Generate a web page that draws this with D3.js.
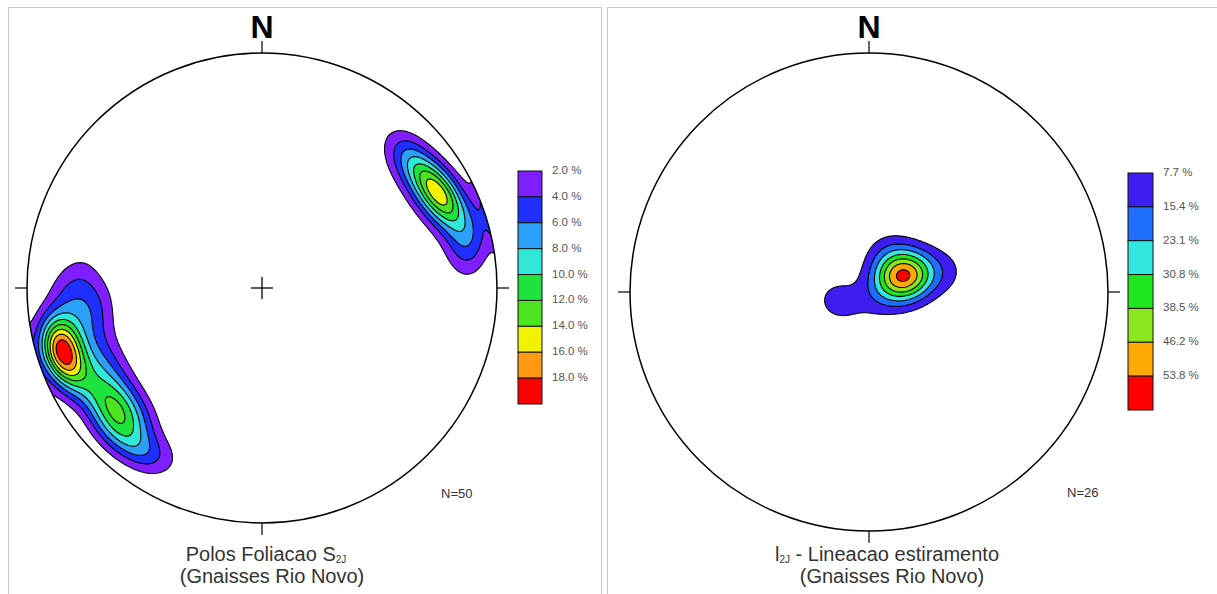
<!DOCTYPE html>
<html><head><meta charset="utf-8">
<script src="https://cdn.jsdelivr.net/npm/d3@7"></script>
<style>body{margin:0;background:#fff}svg{display:block;font-family:"Liberation Sans",Arial,sans-serif}</style>
</head><body><svg id="c" width="1217" height="594"></svg>
<script>
// ---- data: poles to foliation S2J (trend, plunge in degrees), N=50
const foliationPoles = [
  [253,10],[252,9],[256,12],[251,15],[254,8],[247,11],[255,11],[252,17],[249,9],[257,15],[249,13],
  [243,13],[240,18],[244,22],
  [232,17],[229,21],[226,15],[234,24],[228,12],[235,19],[223,20],[221,14],[230,26],[225,24],
  [262,22],[268,17],[273,24],[259,28],[266,30],
  [249,28],[240,28],[255,15],
  [216,13],[213,18],
  [62,16],[60,17],[64,15],[58,20],[63,14],[59,16],[65,18],
  [55,15],[52,19],[68,12],[71,15],
  [46,15],[49,19],
  [78,11],[80,15],[74,6]
];
const foliationLevels = [2.0,4.0,6.0,8.0,10.0,12.0,14.0,16.0,18.0];
const foliationColors = ["#7f1fff","#1f2fff","#2aa0f8","#30e8d8","#1ee33c","#4ce41e","#f2f200","#ff9a12","#ff0000"];

// ---- data: stretching lineation l2J (trend, plunge in degrees), N=26
const lineations = [
  [66,72],[68,83],[58,75],[72,79],[65,72],[60,81],[70,75],[55,78],[75,76],[64,84],
  [66,70],[50,77],[80,78],[67,79],[57,82],[73,73],[61,78],[69,74],
  [261,79],[238,82],[255,77],[73,61],[78,64],[30,74],[153,85],[20,76]
];
const lineationLevels = [7.7,15.4,23.1,30.8,38.5,46.2,53.8];
const lineationColors = ["#3c1ef0","#1e6eff","#30e8e0","#1ee61e","#8ce61e","#ffaa00","#ff0000"];

const svg = d3.select("#c");
svg.append("rect").attr("x",8.5).attr("y",7.5).attr("width",593).attr("height",600)
  .attr("fill","#fff").attr("stroke","#c8c8c8");
svg.append("rect").attr("x",607.5).attr("y",7.5).attr("width",620).attr("height",600)
  .attr("fill","#fff").attr("stroke","#c8c8c8");

function toVec(t,p){const a=t*Math.PI/180,b=p*Math.PI/180;return [Math.cos(b)*Math.sin(a),Math.cos(b)*Math.cos(a),-Math.sin(b)];}
function unitToVec(u,v){let r=Math.hypot(u,v);if(r>1){u/=r;v/=r;r=1;}
  const phi=2*Math.asin(r/Math.SQRT2),a=Math.atan2(u,v);
  return [Math.sin(phi)*Math.sin(a),Math.sin(phi)*Math.cos(a),-Math.cos(phi)];}

function drawNet(o){
  const {id,cx,cy,R,poles,levels,colors,sigma,cross} = o;
  const g = svg.append("g");
  const x = d3.scaleLinear().domain([-1,1]).range([cx-R,cx+R]);
  const y = d3.scaleLinear().domain([-1,1]).range([cy+R,cy-R]);
  const cell=2, pad=6, n=Math.ceil(2*R/cell)+2*pad, x0=cx-R-pad*cell, y0=cy-R-pad*cell;
  const vecs = poles.map(d=>toVec(d[0],d[1]));
  const N = poles.length, s2 = 2*sigma*sigma;
  const values = new Float64Array(n*n);
  for(let j=0;j<n;j++) for(let i=0;i<n;i++){
    const w = unitToVec(x.invert(x0+(i+0.5)*cell), y.invert(y0+(j+0.5)*cell));
    let sum=0;
    for(const p of vecs){const c=Math.min(1,Math.abs(p[0]*w[0]+p[1]*w[1]+p[2]*w[2]));const th=Math.acos(c);sum+=Math.exp(-th*th/s2);}
    values[j*n+i] = sum/(N*sigma*sigma);
  }
  const contours = d3.contours().size([n,n]).thresholds(levels)(values);
  const path = d3.geoPath(d3.geoIdentity().scale(cell).translate([x0,y0]));
  svg.append("clipPath").attr("id",id).append("circle").attr("cx",x(0)).attr("cy",y(0)).attr("r",R);
  g.append("g").attr("clip-path",`url(#${id})`).selectAll("path").data(contours).join("path")
    .attr("d",path).attr("fill",(d,i)=>colors[i]).attr("stroke","#000").attr("stroke-width",1.1)
    .attr("stroke-linejoin","round");
  g.append("circle").attr("cx",x(0)).attr("cy",y(0)).attr("r",R).attr("fill","none")
    .attr("stroke","#000").attr("stroke-width",1.5);
  const tk=12;
  [[0,1,0,-1],[0,-1,0,1],[1,0,1,0],[-1,0,-1,0]].forEach(([u,v,dx,dy])=>{
    g.append("line").attr("x1",x(u)).attr("y1",y(v)).attr("x2",x(u)+dx*tk).attr("y2",y(v)+dy*tk)
      .attr("stroke","#000").attr("stroke-width",1.2);
  });
  if(cross){
    g.append("line").attr("x1",x(0)-11).attr("x2",x(0)+11).attr("y1",y(0)).attr("y2",y(0)).attr("stroke","#000").attr("stroke-width",1.3);
    g.append("line").attr("y1",y(0)-11).attr("y2",y(0)+11).attr("x1",x(0)).attr("x2",x(0)).attr("stroke","#000").attr("stroke-width",1.3);
  }
  g.append("text").attr("x",x(0)).attr("y",y(1)-15).attr("text-anchor","middle")
    .attr("font-size",32).attr("font-weight","bold").attr("fill","#000").text("N");
  // legend
  const ly = d3.scaleLinear().domain([0,levels.length]).range([o.legTop,o.legBottom]);
  const lg = g.append("g");
  lg.selectAll("rect").data(levels).join("rect").attr("x",o.legX).attr("width",o.legW)
    .attr("y",(d,i)=>ly(i)).attr("height",(d,i)=>ly(i+1)-ly(i))
    .attr("fill",(d,i)=>colors[i]).attr("stroke","#111").attr("stroke-width",1);
  lg.selectAll("text").data(levels).join("text").attr("x",o.legX+o.legW+10).attr("y",(d,i)=>ly(i)+3)
    .attr("font-size",11.5).attr("fill","#555").text(d=>d.toFixed(1)+" %");
  g.append("text").attr("x",o.nX).attr("y",o.nY).attr("font-size",13).attr("fill","#333").text("N="+N);
}

drawNet({id:"c1",cx:262,cy:288,R:235,poles:foliationPoles,levels:foliationLevels,colors:foliationColors,
  sigma:0.10,cross:true,legX:518,legW:24,legTop:171,legBottom:404,nX:441,nY:498});
drawNet({id:"c2",cx:869,cy:292,R:239,poles:lineations,levels:lineationLevels,colors:lineationColors,
  sigma:0.10,cross:false,legX:1128,legW:25,legTop:173,legBottom:410,nX:1067,nY:497});

// captions
const cap = svg.append("g").attr("fill","#333").attr("font-size",20).attr("text-anchor","middle");
const t1 = cap.append("text").attr("x",266).attr("y",561);
t1.append("tspan").text("Polos Foliacao S");
t1.append("tspan").attr("font-size",10).attr("dy",2).text("2J");
cap.append("text").attr("x",272).attr("y",583).text("(Gnaisses Rio Novo)");
const t2 = cap.append("text").attr("x",887).attr("y",561);
t2.append("tspan").text("l");
t2.append("tspan").attr("font-size",10).attr("dy",2).text("2J");
t2.append("tspan").attr("dy",-2).text(" - Lineacao estiramento");
cap.append("text").attr("x",892).attr("y",583).text("(Gnaisses Rio Novo)");
</script></body></html>
